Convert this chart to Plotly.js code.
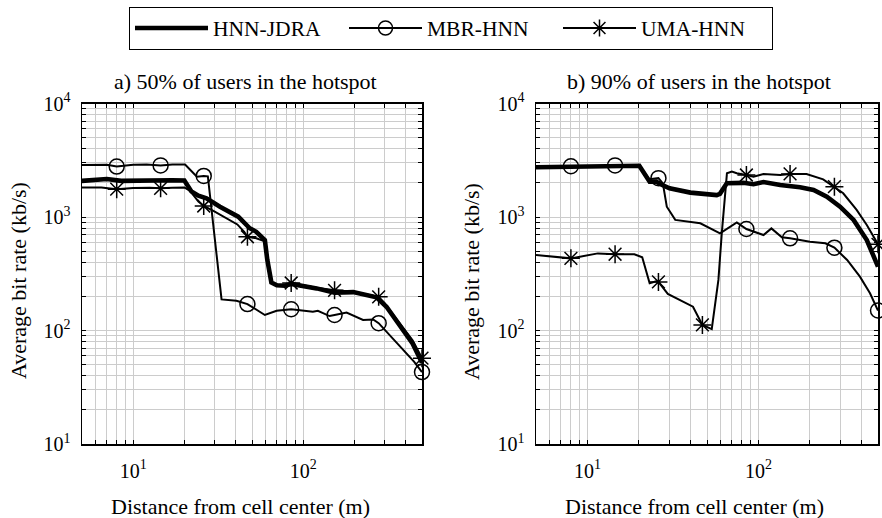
<!DOCTYPE html>
<html>
<head>
<meta charset="utf-8">
<script src="https://cdn.plot.ly/plotly-3.0.1.min.js"></script>
<style>html,body{margin:0;padding:0;background:#fff;}#chart{width:882px;height:518px;}</style>
</head>
<body>
<div id="chart"></div>
<script>
// ---------- data ----------
var seriesNames = ['HNN-JDRA', 'MBR-HNN', 'UMA-HNN'];
var subplotTitles = ['a) 50% of users in the hotspot', 'b) 90% of users in the hotspot'];
var yTitle = 'Average bit rate (kb/s)';
var xTitle = 'Distance from cell center (m)';
var markX = [8, 14.5, 26, 47, 85, 153, 278, 500];

// a) 50% of users in the hotspot
var hnnA_x = [5, 6, 7, 8.5, 10.5, 12.5, 14.5, 17, 20, 22, 24.2, 27, 32.4, 41.5, 48.5, 53, 59.5, 61.5, 65, 70, 78, 85, 120, 153, 197, 270, 309, 370, 440, 500];
var hnnA_y = [2080, 2110, 2160, 2080, 2090, 2130, 2120, 2110, 2100, 1680, 1540, 1460, 1233, 1006, 796, 741, 627, 420, 265, 250, 248, 257, 235, 215, 218, 196, 162, 110, 77, 52];
var mbrA_x = [5, 7, 8, 10, 12, 14.5, 17, 20.2, 23.7, 26, 27.5, 33.1, 40.5, 47, 59.5, 69.8, 85, 114, 122, 143, 153, 180, 225, 258, 278, 370, 450, 500];
var mbrA_y = [2870, 2880, 2780, 2880, 2900, 2850, 2900, 2900, 2265, 2300, 2280, 188, 183, 171, 137, 149, 154, 146, 149, 134, 137, 144, 124, 125, 116, 72, 53, 43];
var umaA_x = [5, 6.5, 8, 10, 12.5, 14.5, 17, 20, 21.6, 24.2, 26, 30, 41, 45, 47, 53, 59.5, 61.5, 65, 70, 78, 85, 120, 153, 197, 278, 309, 370, 440, 500];
var umaA_y = [1820, 1820, 1760, 1800, 1810, 1790, 1810, 1820, 1700, 1365, 1250, 1120, 860, 740, 670, 650, 610, 410, 262, 250, 250, 262, 238, 226, 220, 198, 165, 115, 82, 57];

// b) 90% of users in the hotspot
var hnnB_x = [5, 8, 11, 14.5, 17, 20.1, 23.1, 25.2, 26.6, 30.2, 40, 49.4, 57, 59.5, 65.3, 81.7, 93.5, 107, 134, 175, 210, 251, 300, 360, 430, 500];
var hnnB_y = [2740, 2780, 2790, 2830, 2830, 2830, 2046, 2050, 1950, 1790, 1640, 1570, 1560, 1600, 1981, 2000, 1943, 2032, 1914, 1827, 1730, 1511, 1233, 943, 627, 365];
var mbrB_x = [5, 8, 11, 14.5, 17, 20.1, 23, 26, 27.6, 29.1, 32.6, 45.7, 59.6, 74.7, 85, 107, 119, 137, 153, 200, 246, 278, 330, 392, 449, 500];
var mbrB_y = [2760, 2800, 2800, 2850, 2850, 2850, 2150, 2200, 1980, 1233, 943, 880, 718, 897, 784, 694, 794, 662, 649, 606, 586, 537, 418, 298, 213, 150];
var umaB_x = [5, 8, 11.5, 14.5, 18.8, 20.9, 23.1, 25.2, 26, 29.5, 41.4, 47, 53.3, 58.3, 61, 65.4, 69.9, 74.6, 85, 93.5, 107, 134, 153, 191, 239, 278, 313, 375, 430, 500];
var umaB_y = [462, 432, 478, 470, 470, 442, 261, 271, 268, 210, 162, 112, 103, 279, 718, 2427, 2510, 2427, 2344, 2265, 2395, 2344, 2395, 2395, 2148, 1849, 1619, 1154, 850, 574];

var xTickVals = [5, 6, 7, 8, 9, 10, 20, 30, 40, 50, 60, 70, 80, 90, 100, 200, 300, 400, 500];
var yTickVals = [10, 20, 30, 40, 50, 60, 70, 80, 90, 100, 200, 300, 400, 500, 600, 700, 800, 900,
                 1000, 2000, 3000, 4000, 5000, 6000, 7000, 8000, 9000, 10000];
var labelVals = {10: '10<sup>1</sup>', 100: '10<sup>2</sup>', 1000: '10<sup>3</sup>', 10000: '10<sup>4</sup>'};

// ---------- styles ----------
function F(sz) { return {family: 'Liberation Serif', size: sz, color: 'black'}; }
var styles = {
  'HNN-JDRA': {lw: 4.6, symbol: null},
  'MBR-HNN': {lw: 2, symbol: 'circle-open'},
  'UMA-HNN': {lw: 2, symbol: 'asterisk-open'}
};

function pickMarks(xs, ys) {
  var mx = [], my = [];
  for (var i = 0; i < xs.length; i++) {
    if (markX.indexOf(xs[i]) >= 0) { mx.push(xs[i]); my.push(ys[i]); }
  }
  return {x: mx, y: my};
}

var traces = [];
seriesNames.forEach(function (n) {
  var s = styles[n];
  var t = {x: [null], y: [null], name: n, type: 'scatter', showlegend: true,
           mode: s.symbol ? 'lines+markers' : 'lines',
           line: {color: 'black', width: s.lw}, xaxis: 'x', yaxis: 'y', hoverinfo: 'skip'};
  if (s.symbol) t.marker = {symbol: s.symbol, size: 14, color: 'black', line: {color: 'black', width: 1.5}};
  traces.push(t);
});

function addSeries(n, xs, ys, xa, ya) {
  var s = styles[n];
  traces.push({x: xs, y: ys, type: 'scatter', mode: 'lines', showlegend: false, name: n,
               line: {color: 'black', width: s.lw}, xaxis: xa, yaxis: ya});
  if (s.symbol) {
    var m = pickMarks(xs, ys);
    traces.push({x: m.x, y: m.y, type: 'scatter', mode: 'markers', showlegend: false, name: n,
                 cliponaxis: false,
                 marker: {symbol: s.symbol, size: 15, color: 'black', line: {color: 'black', width: 1.5}},
                 xaxis: xa, yaxis: ya});
  }
}
addSeries('MBR-HNN', mbrA_x, mbrA_y, 'x', 'y');
addSeries('UMA-HNN', umaA_x, umaA_y, 'x', 'y');
addSeries('HNN-JDRA', hnnA_x, hnnA_y, 'x', 'y');
addSeries('MBR-HNN', mbrB_x, mbrB_y, 'x2', 'y2');
addSeries('UMA-HNN', umaB_x, umaB_y, 'x2', 'y2');
addSeries('HNN-JDRA', hnnB_x, hnnB_y, 'x2', 'y2');

function axis(vals, range, domain, anchor, standoff) {
  return {
    type: 'log', range: [Math.log10(range[0]), Math.log10(range[1])], domain: domain, anchor: anchor,
    tickmode: 'array', tickvals: vals,
    ticktext: vals.map(function (v) { return labelVals[v] || ''; }),
    ticks: 'inside', ticklen: 4, tickwidth: 1, tickcolor: 'black',
    showgrid: true, gridcolor: '#cccccc', gridwidth: 1,
    showline: true, linecolor: 'black', linewidth: 1.5, mirror: 'ticks',
    zeroline: false, tickfont: F(20),
    ticklabelstandoff: standoff
  };
}

var W = 882, H = 518;
var yDom = [(H - 444) / H, (H - 103.5) / H];
function ann(text, px, py, angle) {
  return {text: text, x: px / W, y: (H - py) / H, xref: 'paper', yref: 'paper', showarrow: false,
          xanchor: 'center', yanchor: 'middle', textangle: angle || 0, font: F(22)};
}
var layout = {
  width: W, height: H,
  margin: {l: 0, r: 0, t: 0, b: 0},
  paper_bgcolor: 'white', plot_bgcolor: 'white',
  font: F(21),
  showlegend: true,
  legend: {orientation: 'h', x: 451 / W, xanchor: 'center', y: (H - 28) / H, yanchor: 'middle',
           bordercolor: 'black', borderwidth: 1, bgcolor: 'white', itemwidth: 73,
           entrywidth: 126, entrywidthmode: 'pixels',
           font: F(21.5)},
  xaxis: axis(xTickVals, [5, 500], [82 / W, 422 / W], 'y', 8),
  yaxis: axis(yTickVals, [10, 10000], yDom, 'x', 6),
  xaxis2: axis(xTickVals, [5, 500], [536 / W, 878 / W], 'y2', 8),
  yaxis2: axis(yTickVals, [10, 10000], yDom, 'x2', 6),
  annotations: [
    ann(subplotTitles[0], 245, 81), ann(subplotTitles[1], 699, 81),
    ann(yTitle, 18, 281, -90), ann(yTitle, 471, 282, -90),
    ann(xTitle, 240, 506), ann(xTitle, 694, 506)
  ]
};

Plotly.newPlot('chart', traces, layout, {staticPlot: true, displayModeBar: false});
</script>
</body>
</html>
